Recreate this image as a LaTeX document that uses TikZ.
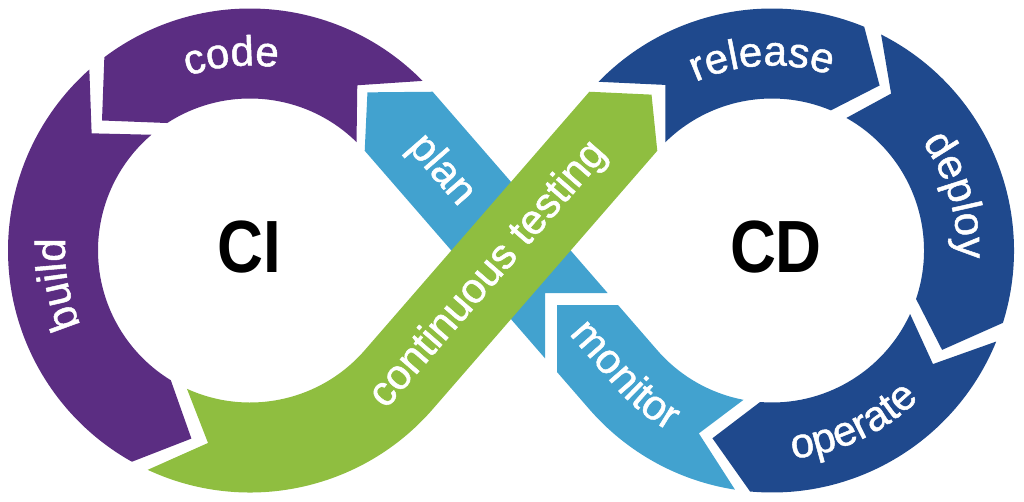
\documentclass[tikz,border=0pt]{standalone}
\usepackage{fontspec}
\setmainfont{Liberation Sans}
\newfontfamily\hubfont[FakeStretch=0.86]{Liberation Sans}
\newfontfamily\segfamily[FakeBold=1.2]{Liberation Sans}
\usetikzlibrary{decorations.text}
\definecolor{ciPurple}{RGB}{91,45,130}
\definecolor{cdBlue}{RGB}{31,73,141}
\definecolor{loopBlue}{RGB}{66,162,207}
\definecolor{testGreen}{RGB}{143,190,64}
\newcommand{\segfont}{\segfamily\fontsize{42}{50}\selectfont}
% ring piece: colour, centre, tail outer/notch/inner, head outer/tip/inner
\newcommand{\ringseg}[8]{\fill[#1, shift={(#2)}] (#3:\rout)
    arc[start angle=#3, end angle=#6, radius=\rout] -- (#7:\rmid) -- (#8:\rin)
    arc[start angle=#8, end angle=#5, radius=\rin] -- (#4:\rmid) -- cycle;}

\begin{document}
\begin{tikzpicture}[x=1pt, y=1pt,
ringtext/.style = {decorate, decoration={text along path, text align=center,
                   text color=white, text={|\segfont|#1}}},
bandtext/.style = {text=white, font=\segfont, inner sep=0pt, anchor=base},
hubtext/.style  = {font=\hubfont\bfseries\fontsize{74}{80}\selectfont}
                ]
    \useasboundingbox (-511,-250.5) rectangle (513,250.5);
    \def\rin{152}
    \def\rmid{197}
    \def\rout{242}
    \coordinate (L) at (-261,0);
    \coordinate (R) at (261,0);

    % CI loop
    \ringseg{ciPurple}{L}{44.5}{57}{45.5}{127}{138.7}{123}
    \ringseg{ciPurple}{L}{131.6}{143.5}{130.4}{240.8}{252.7}{238.6}
    % CD loop
    \ringseg{cdBlue}{R}{135.8}{122.8}{134.6}{67.6}{56.9}{67.2}
    \ringseg{cdBlue}{R}{63.2}{52.8}{60.7}{-17.4}{-30.3}{-18.6}
    \ringseg{cdBlue}{R}{-22.1}{-35.2}{-24.7}{-95.2}{-107.6}{-94.5}

    % monitor and plan run under the green band
    \fill[loopBlue] ([shift={(R)}]261.2:\rout) arc[start angle=261.2, end angle=221, radius=\rout]
        -- (46,-121.5) -- (46,-54.5) -- (107,-54.5) -- ([shift={(R)}]221:\rin)
        arc[start angle=221, end angle=259.2, radius=\rin] -- ([shift={(R)}]248.2:\rmid) -- cycle;
    \fill[loopBlue] (96.6,-42.5) -- (34,-42.5) -- (34,-107.8) -- ([shift={(L)}]41:\rin)
        -- ([shift={(L)}]53.4:\rmid) -- ([shift={(L)}]41:\rout) -- cycle;
    \fill[testGreen] ([shift={(L)}]245:\rout) arc[start angle=245, end angle=319, radius=\rout]
        -- ([shift={(R)}]139:\rin) -- ([shift={(R)}]127.7:\rmid) -- ([shift={(R)}]139:\rout)
        -- ([shift={(L)}]319:\rin) arc[start angle=319, end angle=245.5, radius=\rin]
        -- ([shift={(L)}]257.7:\rmid) -- cycle;

    \path[ringtext=code] ([shift={(L)}]135:185) arc[start angle=135, end angle=56, radius=185];
    \path[ringtext=build] ([shift={(L)}]230:185) arc[start angle=230, end angle=150, radius=185];
    \path[ringtext=release] ([shift={(R)}]133:185) arc[start angle=133, end angle=53, radius=185];
    \path[ringtext=deploy] ([shift={(R)}]56.7:185) arc[start angle=56.7, end angle=-23.3, radius=185];
    \path[ringtext=operate] ([shift={(R)}]-104.8:209) arc[start angle=-104.8, end angle=-24.8, radius=209];
    \path[ringtext=monitor] (51.5,-76.1) -- ([shift={(R)}]221:208)
        arc[start angle=221, end angle=243, radius=208];

    \node[bandtext, rotate=-49] (plan) at (-78,73) {plan};
    \node[bandtext, rotate=49] (testing) at (-14.1,-31.4) {continuous testing};
    \node[hubtext] (ci) at (-262,3.5) {CI};
    \node[hubtext] (cd) at (265,3.5) {CD};
\end{tikzpicture}
\end{document}
